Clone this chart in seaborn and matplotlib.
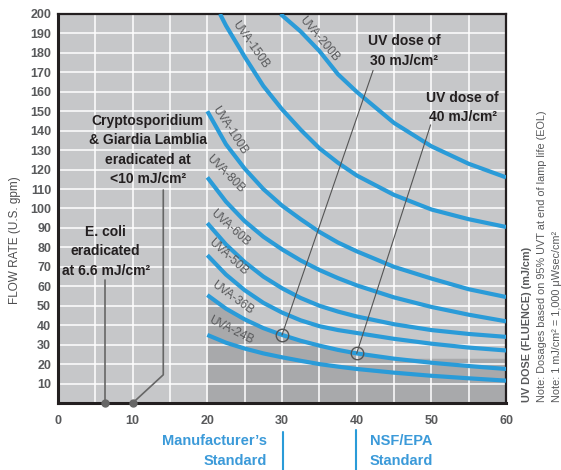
import pandas as pd
import seaborn as sns
import matplotlib.pyplot as plt
from matplotlib.ticker import MultipleLocator
from matplotlib.transforms import blended_transform_factory

# UV dose (mJ/cm2) vs flow rate (U.S. gpm)
dose = [20, 22.5, 25, 27.5, 30, 32.5, 35, 37.5, 40, 45, 50, 55, 60]
dose_150 = [21.7, 22.5, 25, 27.5, 30, 32.5, 35, 37.5, 40, 45, 50, 55, 60]
dose_200 = [29.8, 32.5, 35, 37.5, 40, 45, 50, 55, 60]

flow_24 = [35, 31, 28, 25.5, 23.5, 21.7, 20, 18.7, 17.5, 15.6, 14, 12.7, 11.5]
flow_36 = [55.5, 48.5, 43, 38.5, 35, 32, 29.5, 27.3, 25.5, 22.8, 20.7, 19, 17.5]
flow_50 = [76, 66, 58, 51.5, 46.5, 42.5, 39.5, 37.5, 36, 33, 30.5, 28.5, 27]
flow_60 = [92.5, 81.5, 72.5, 65, 59, 54, 50, 47, 44.5, 40.5, 37.5, 35.5, 34]
flow_80 = [116, 103.5, 93.5, 85.5, 79, 73.3, 68.4, 64.2, 60.5, 54.3, 49.4, 45.4, 42]
flow_100 = [150, 133, 120.5, 110, 101.5, 94.5, 88, 82.5, 78, 70, 64, 58.5, 54.5]
flow_150 = [200, 194, 178, 163, 151, 140.5, 131, 123.5, 117, 107, 99.5, 94.5, 90.5]
flow_200 = [200, 191, 181, 169, 160, 144, 132, 123, 116]

# shaded band floor
shade_floor = 23

models = ['UVA-24B', 'UVA-36B', 'UVA-50B', 'UVA-60B', 'UVA-80B', 'UVA-100B', 'UVA-150B', 'UVA-200B']
label_pos = [(23.2, 37.5, -27), (23.3, 54, -36), (22.8, 75, -42), (23.0, 90, -42),
             (22.4, 118, -45), (23.0, 140, -57), (25.8, 184, -55), (34.9, 187, -50)]

BLUE = '#2a9bd8'
GRAY_TXT = '#58595b'

frames = []
for name, xs, ys in zip(models,
                        [dose] * 6 + [dose_150, dose_200],
                        [flow_24, flow_36, flow_50, flow_60, flow_80, flow_100, flow_150, flow_200]):
    frames.append(pd.DataFrame({'dose': xs, 'flow': ys, 'model': name}))
df = pd.concat(frames, ignore_index=True)

sns.set_style('white')
plt.rcParams['font.family'] = ['Liberation Sans', 'DejaVu Sans']

fig = plt.figure(figsize=(5.61, 4.70), dpi=100)
ax = fig.add_axes([58 / 561, 1 - 403 / 470, 448 / 561, 389 / 470])
ax.set_facecolor('#c6c7c9')

# darker band under the small models
band = [max(v, shade_floor) for v in flow_36]
ax.fill_between(dose, 0, band, color='#a8a9ab', lw=0, zorder=0.3)

sns.lineplot(data=df, x='dose', y='flow', hue='model', palette=[BLUE] * len(models),
             legend=False, lw=3, ax=ax, sort=False, estimator=None, zorder=3)
for line in ax.lines:
    line.set_solid_capstyle('butt')

for name, (lx, ly, rot) in zip(models, label_pos):
    ax.text(lx, ly, name, rotation=rot, rotation_mode='anchor', ha='center', va='center',
            fontsize=8.5, color=GRAY_TXT, zorder=4)

ax.set_xlim(0, 60)
ax.set_ylim(0, 200)
ax.set_xticks(range(0, 61, 10))
ax.set_yticks(range(10, 201, 10))
ax.xaxis.set_minor_locator(MultipleLocator(5))
ax.grid(which='both', color='white', lw=1.1)
ax.set_axisbelow(True)
ax.tick_params(which='both', length=0, labelsize=9, labelcolor=GRAY_TXT)
ax.tick_params(axis='x', pad=9)
ax.tick_params(axis='y', pad=5)
for lab in ax.get_xticklabels() + ax.get_yticklabels():
    lab.set_fontweight('bold')
ax.set_xlabel('')
ax.set_ylabel('')
for side in ['left', 'bottom']:
    ax.spines[side].set_linewidth(2.2)
    ax.spines[side].set_color('#231f20')
for side in ['top', 'right']:
    ax.spines[side].set_linewidth(1.6)
    ax.spines[side].set_color('#231f20')
    ax.spines[side].set_visible(True)

# leader lines and markers
LEAD = '#555555'
ax.plot([42.2, 30], [171, 35], color=LEAD, lw=0.8, zorder=5)
ax.plot([49.9, 40], [143, 25.5], color=LEAD, lw=0.8, zorder=5)
ax.plot([30, 40], [35, 25.5], ls='none', marker='o', ms=9, mfc='none', mec=LEAD, mew=1, zorder=6)
ax.plot([14.1, 14.1, 10], [109.5, 14.5, 0], color='#666666', lw=1.2, zorder=5, clip_on=False)
ax.plot([6.3, 6.3], [63, 0], color='#666666', lw=1.2, zorder=5, clip_on=False)
ax.plot([6.3, 10], [0, 0], ls='none', marker='o', ms=5, color='#666666', zorder=6, clip_on=False)

txt_kw = dict(ha='center', va='center', fontsize=10, fontweight='bold', color='#231f20',
              linespacing=1.5, zorder=7)
ax.text(46.4, 181, 'UV dose of\n30 mJ/cm²', **txt_kw)
ax.text(54.2, 152, 'UV dose of\n40 mJ/cm²', **txt_kw)
ax.text(12.0, 130, 'Cryptosporidium\n& Giardia Lamblia\neradicated at\n<10 mJ/cm²', **txt_kw)
ax.text(6.4, 78, 'E. coli\neradicated\nat 6.6 mJ/cm²', **txt_kw)

# standards below the axis
trans = blended_transform_factory(ax.transData, ax.transAxes)
ax.plot([30.2, 30.2], [-0.075, -0.175], color=BLUE, lw=1.5, transform=trans, clip_on=False)
ax.plot([39.9, 39.9], [-0.07, -0.175], color=BLUE, lw=1.5, transform=trans, clip_on=False)
std_kw = dict(fontsize=10.5, fontweight='bold', color='#3b9ad9', va='center', linespacing=1.6)
fig.text(267 / 561, 1 - 451 / 470, "Manufacturer’s\nStandard", ha='right', **std_kw)
fig.text(370 / 561, 1 - 451 / 470, 'NSF/EPA\nStandard', ha='left', **std_kw)

# axis titles and notes
fig.text(15 / 561, 1 - 240 / 470, 'FLOW RATE (U.S. gpm)', rotation=90, ha='center', va='center',
         fontsize=8.5, color='#4d4d4f')
fig.text(527 / 561, 1 - 402 / 470, 'UV DOSE (FLUENCE) (mJ/cm)', rotation=90, ha='center',
         va='bottom', fontsize=7.8, fontweight='bold', color=GRAY_TXT)
fig.text(542 / 561, 1 - 402 / 470, 'Note: Dosages based on 95% UVT at end of lamp life (EOL)',
         rotation=90, ha='center', va='bottom', fontsize=7.8, color=GRAY_TXT)
fig.text(557 / 561, 1 - 402 / 470, 'Note: 1 mJ/cm² = 1,000 μWsec/cm²',
         rotation=90, ha='center', va='bottom', fontsize=7.8, color=GRAY_TXT)

fig.savefig('out.png', dpi=100, facecolor='white')
